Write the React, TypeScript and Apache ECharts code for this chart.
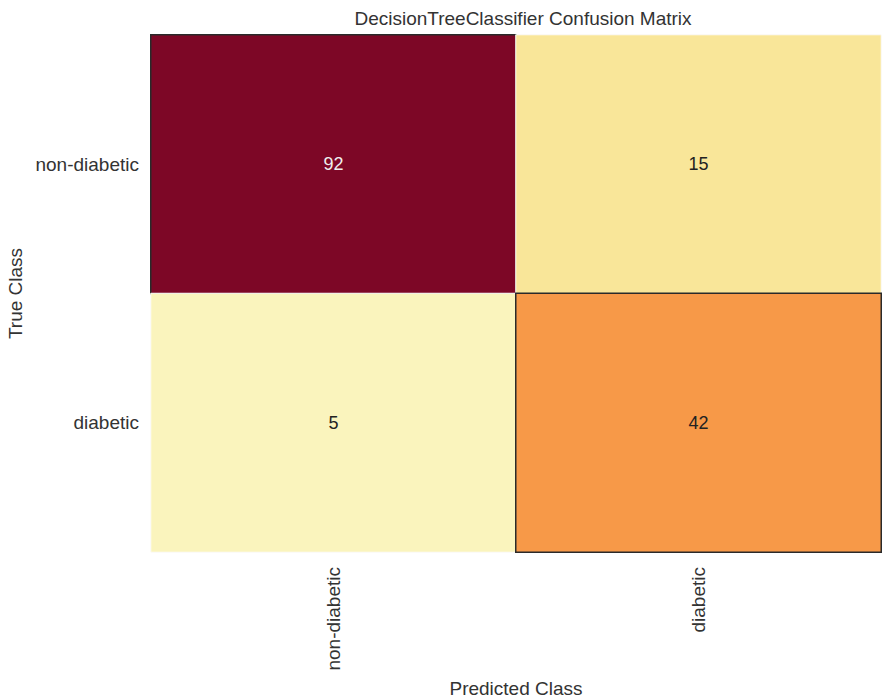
import React, { useEffect, useRef } from "react";
import * as echarts from "echarts";

const predictedClasses = ["non-diabetic", "diabetic"];
const trueClasses = ["non-diabetic", "diabetic"];
// rows: true class, cols: predicted class
const matrix = [
  [92, 15],
  [5, 42],
];
const titleText = "DecisionTreeClassifier Confusion Matrix";
const xName = "Predicted Class";
const yName = "True Class";
const palette = ["#fbfbcf", "#f9eca6", "#f9d97c", "#f8b253", "#f68b42", "#f04f30", "#d81d24", "#b20628", "#7d0726"];

export default function App() {
  const ref = useRef<HTMLDivElement>(null);
  useEffect(() => {
    if (!ref.current) return;
    const chart = echarts.init(ref.current, undefined, { renderer: "svg" });
    const maxV = Math.max(...matrix.flat());
    const data: any[] = [];
    matrix.forEach((row, r) => {
      row.forEach((v, c) => {
        const diag = r === c;
        data.push({
          value: [c, r, v],
          itemStyle: diag
            ? { borderColor: "#2a2a2a", borderWidth: 1.5 }
            : { borderColor: "#ffffff", borderWidth: 1 },
          label: { color: v / maxV > 0.7 ? "#eeeeee" : "#222222" },
        });
      });
    });
    const font = "'Liberation Sans', Arial, sans-serif";
    chart.setOption({
      animation: false,
      backgroundColor: "#ffffff",
      textStyle: { fontFamily: font },
      title: {
        text: titleText,
        left: 518,
        top: 4,
        textAlign: "center",
        textStyle: { fontSize: 19, fontWeight: "normal", color: "#333333", fontFamily: font },
      },
      grid: {
        left: 151,
        right: 1,
        top: 35,
        bottom: 148,
        outerBoundsMode: "none",
        containLabel: false,
        show: true,
        borderColor: "#d0d0d0",
        borderWidth: 1,
        backgroundColor: "transparent",
      },
      visualMap: {
        show: false,
        min: 0,
        max: maxV,
        dimension: 2,
        inRange: { color: palette },
      },
      xAxis: {
        type: "category",
        data: predictedClasses,
        name: xName,
        nameLocation: "middle",
        nameGap: 127,
        nameTextStyle: { fontSize: 19, color: "#333333", fontFamily: font },
        axisLine: { show: false },
        axisTick: { show: false },
        splitLine: { show: false },
        axisLabel: { rotate: 90, margin: 15, fontSize: 19, color: "#333333", fontFamily: font },
      },
      yAxis: {
        type: "category",
        data: trueClasses,
        inverse: true,
        name: yName,
        nameLocation: "middle",
        nameGap: 126,
        nameRotate: 90,
        nameTextStyle: { fontSize: 19, color: "#333333", fontFamily: font },
        axisLine: { show: false },
        axisTick: { show: false },
        splitLine: { show: false },
        axisLabel: { margin: 12, fontSize: 19, color: "#333333", fontFamily: font },
      },
      series: [
        {
          type: "heatmap",
          data,
          label: { show: true, fontSize: 18, fontFamily: font },
          emphasis: { disabled: true },
        },
      ],
    });
    return () => chart.dispose();
  }, []);
  return (
    <div
      ref={ref}
      style={{ position: "fixed", left: 0, top: 0, width: 882, height: 700 }}
    />
  );
}
